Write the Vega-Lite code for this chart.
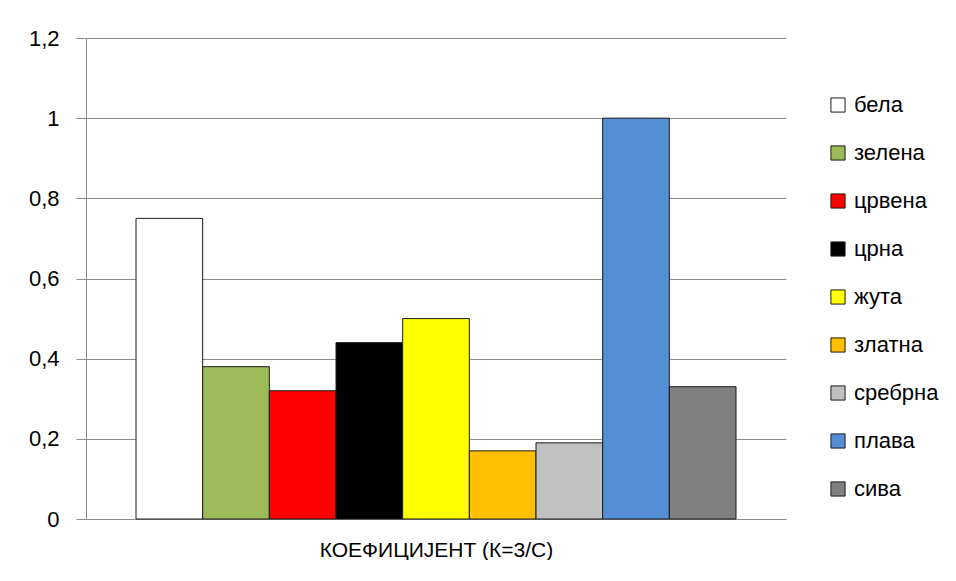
{
  "$schema": "https://vega.github.io/schema/vega-lite/v6.json",
  "width": 700,
  "height": 481,
  "padding": {"left": 16, "top": 27, "right": 0, "bottom": 0},
  "background": "white",
  "data": {
    "values": [
      {"boja": "бела", "k": 0.75},
      {"boja": "зелена", "k": 0.38},
      {"boja": "црвена", "k": 0.32},
      {"boja": "црна", "k": 0.44},
      {"boja": "жута", "k": 0.5},
      {"boja": "златна", "k": 0.17},
      {"boja": "сребрна", "k": 0.19},
      {"boja": "плава", "k": 1.0},
      {"boja": "сива", "k": 0.33}
    ]
  },
  "mark": {"type": "bar", "stroke": "#1a1a1a", "strokeWidth": 1},
  "encoding": {
    "x": {
      "field": "boja",
      "type": "nominal",
      "sort": null,
      "scale": {"paddingInner": 0, "paddingOuter": 0.75},
      "axis": {
        "title": "КОЕФИЦИЈЕНТ (К=3/С)",
        "labels": false,
        "ticks": false,
        "domainColor": "#8c8c8c",
        "titleFont": "Liberation Sans",
        "titleFontSize": 21,
        "titleFontWeight": "normal",
        "titleColor": "#000000",
        "titlePadding": 20
      }
    },
    "y": {
      "field": "k",
      "type": "quantitative",
      "scale": {"domain": [0, 1.2], "nice": false},
      "axis": {
        "title": null,
        "values": [0, 0.2, 0.4, 0.6, 0.8, 1, 1.2],
        "labelExpr": "replace(format(datum.value, '.1~f'), '.', ',')",
        "tickSize": 10,
        "tickColor": "#8c8c8c",
        "domainColor": "#8c8c8c",
        "gridColor": "#8c8c8c",
        "labelFont": "Liberation Sans",
        "labelFontSize": 22,
        "labelColor": "#000000",
        "labelPadding": 17,
        "minExtent": 70,
        "maxExtent": 70
      }
    },
    "fill": {
      "field": "boja",
      "type": "nominal",
      "sort": null,
      "scale": {
        "domain": ["бела", "зелена", "црвена", "црна", "жута", "златна", "сребрна", "плава", "сива"],
        "range": ["#ffffff", "#9bbb59", "#ff0000", "#000000", "#ffff00", "#ffc000", "#c0c0c0", "#558ed5", "#808080"]
      },
      "legend": {
        "title": null,
        "orient": "none",
        "legendX": 741,
        "legendY": 56,
        "symbolType": "square",
        "symbolSize": 200,
        "symbolStrokeColor": "#1a1a1a",
        "symbolStrokeWidth": 1,
        "symbolOpacity": 1,
        "labelFont": "Liberation Sans",
        "labelFontSize": 22,
        "labelColor": "#000000",
        "labelOffset": 5,
        "rowPadding": 26
      }
    }
  },
  "config": {
    "view": {"stroke": null},
    "axis": {"gridWidth": 1}
  }
}
